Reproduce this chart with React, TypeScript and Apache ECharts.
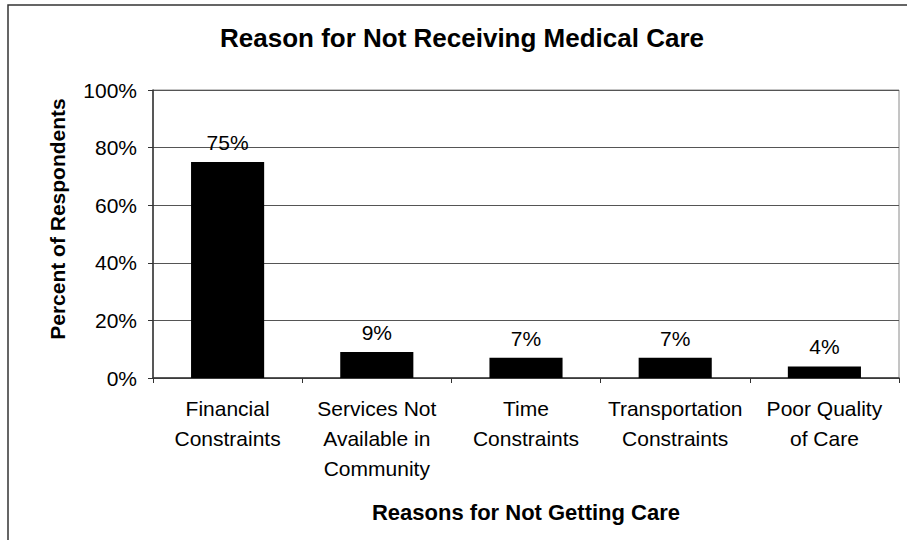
import React, { useEffect, useRef } from "react";
import * as echarts from "echarts";

const categories = [
  "Financial\nConstraints",
  "Services Not\nAvailable in\nCommunity",
  "Time\nConstraints",
  "Transportation\nConstraints",
  "Poor Quality\nof Care",
];
const percentValues = [75, 9, 7, 7, 4];
const yTicks = { min: 0, max: 100, interval: 20 };

const chartTitle = "Reason for Not Receiving Medical Care";
const xTitle = "Reasons for Not Getting Care";
const yTitle = "Percent of Respondents";

const FONT = "'Liberation Sans', Arial, Helvetica, sans-serif";

export default function App() {
  const ref = useRef<HTMLDivElement>(null);

  useEffect(() => {
    document.body.style.margin = "0";
    const chart = echarts.init(ref.current!, null, { renderer: "svg" });
    chart.setOption({
      animation: false,
      backgroundColor: "#ffffff",
      grid: {
        left: 153,
        top: 90,
        width: 746,
        height: 288,
        show: true,
        borderColor: "#8a8a8a",
        borderWidth: 1,
        backgroundColor: "transparent",
      },
      xAxis: {
        type: "category",
        data: categories,
        axisLine: { show: true, lineStyle: { color: "#333", width: 1.5 } },
        axisTick: {
          show: true,
          alignWithLabel: false,
          interval: 0,
          length: 5,
          inside: false,
          lineStyle: { color: "#333" },
        },
        axisLabel: {
          interval: 0,
          margin: 15,
          fontSize: 21,
          lineHeight: 30,
          color: "#000",
          fontFamily: FONT,
          align: "center",
        },
        splitLine: { show: false },
      },
      yAxis: {
        type: "value",
        min: yTicks.min,
        max: yTicks.max,
        interval: yTicks.interval,
        axisLine: { show: true, lineStyle: { color: "#333", width: 1.5 } },
        axisTick: { show: true, length: 5, inside: false, lineStyle: { color: "#333" } },
        axisLabel: {
          formatter: "{value}%",
          margin: 16,
          fontSize: 21,
          color: "#000",
          fontFamily: FONT,
        },
        splitLine: { show: true, lineStyle: { color: "#555", width: 1 } },
      },
      series: [
        {
          type: "bar",
          data: percentValues,
          barWidth: "49%",
          itemStyle: { color: "#000" },
          label: {
            show: true,
            position: "top",
            distance: 9,
            formatter: "{c}%",
            fontSize: 21,
            color: "#000",
            fontFamily: FONT,
          },
        },
      ],
      graphic: [
        {
          type: "rect",
          shape: { x: 8, y: 5, width: 1200, height: 1200 },
          style: { fill: "none", stroke: "#333", lineWidth: 1.5 },
          silent: true,
        },
        {
          type: "text",
          x: 462,
          y: 38,
          style: {
            text: chartTitle,
            fontSize: 26,
            fontWeight: "bold",
            fontFamily: FONT,
            fill: "#000",
            align: "center",
            verticalAlign: "middle",
          },
        },
        {
          type: "text",
          x: 526,
          y: 512,
          style: {
            text: xTitle,
            fontSize: 22,
            fontWeight: "bold",
            fontFamily: FONT,
            fill: "#000",
            align: "center",
            verticalAlign: "middle",
          },
        },
        {
          type: "text",
          x: 57,
          y: 219,
          rotation: Math.PI / 2,
          style: {
            text: yTitle,
            fontSize: 21,
            fontWeight: "bold",
            fontFamily: FONT,
            fill: "#000",
            align: "center",
            verticalAlign: "middle",
          },
        },
      ],
    });
    return () => chart.dispose();
  }, []);

  return (
    <div
      ref={ref}
      style={{ position: "fixed", left: 0, top: 0, width: 907, height: 540 }}
    />
  );
}
